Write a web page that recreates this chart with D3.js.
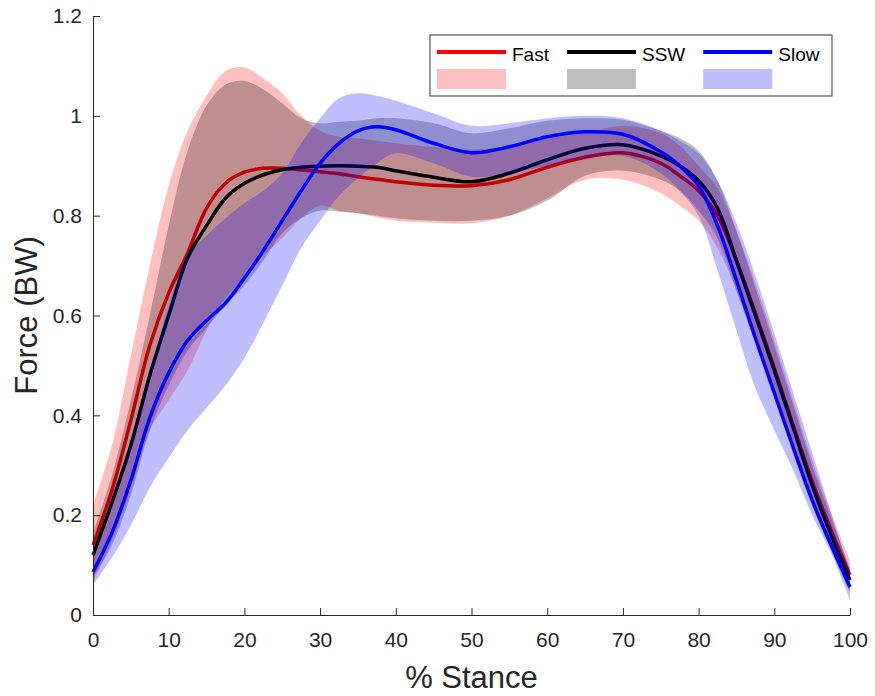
<!DOCTYPE html>
<html>
<head>
<meta charset="utf-8">
<script src="https://cdn.jsdelivr.net/npm/d3@7"></script>
<style>
  body { margin: 0; background: #fff; }
  svg { display: block; font-family: "Liberation Sans", Arial, sans-serif; }
</style>
</head>
<body>
<script>
// % stance sample points (denser where the curves turn fast)
var stance = [0, 2.5, 5, 7.5, 10, 12.5, 15, 17.5, 20, 22.5, 25, 27.5, 30, 32.5, 35, 37.5, 40,
              45, 50, 55, 60, 65, 70, 75, 77.5, 80, 82.5, 85, 87.5, 90, 92.5, 95, 97.5, 100];

// Fast
var fastMean = [0.14, 0.25, 0.39, 0.54, 0.645, 0.725, 0.815, 0.865, 0.887, 0.895, 0.895, 0.892, 0.888, 0.884, 0.878, 0.873, 0.868,
                0.861, 0.86, 0.872, 0.897, 0.917, 0.926, 0.905, 0.88, 0.85, 0.8, 0.71, 0.605, 0.495, 0.38, 0.268, 0.17, 0.08];
var fastHi   = [0.22, 0.34, 0.52, 0.7, 0.86, 0.97, 1.04, 1.09, 1.097, 1.075, 1.045, 1.0, 0.97, 0.958, 0.955, 0.95, 0.945,
                0.937, 0.932, 0.94, 0.955, 0.965, 0.98, 0.965, 0.94, 0.9, 0.855, 0.77, 0.665, 0.55, 0.43, 0.31, 0.205, 0.11];
var fastLo   = [0.065, 0.15, 0.25, 0.37, 0.43, 0.49, 0.57, 0.635, 0.675, 0.72, 0.755, 0.795, 0.82, 0.81, 0.805, 0.797, 0.79,
                0.786, 0.785, 0.8, 0.835, 0.872, 0.872, 0.845, 0.82, 0.79, 0.735, 0.65, 0.545, 0.44, 0.33, 0.225, 0.135, 0.05];

// SSW
var sswMean = [0.12, 0.225, 0.34, 0.48, 0.6, 0.715, 0.78, 0.835, 0.865, 0.882, 0.892, 0.897, 0.899, 0.9, 0.899, 0.897, 0.89,
               0.877, 0.868, 0.885, 0.912, 0.935, 0.942, 0.92, 0.9, 0.87, 0.815, 0.71, 0.6, 0.49, 0.375, 0.26, 0.16, 0.07];
var sswHi   = [0.165, 0.28, 0.43, 0.6, 0.78, 0.93, 1.02, 1.063, 1.07, 1.053, 1.025, 0.995, 0.985, 0.988, 0.99, 0.995, 0.995,
               0.985, 0.965, 0.975, 0.99, 0.995, 0.992, 0.97, 0.955, 0.93, 0.87, 0.77, 0.655, 0.54, 0.42, 0.3, 0.195, 0.095];
var sswLo   = [0.075, 0.14, 0.24, 0.37, 0.46, 0.53, 0.575, 0.62, 0.66, 0.71, 0.765, 0.795, 0.81, 0.808, 0.805, 0.8, 0.795,
               0.79, 0.79, 0.8, 0.83, 0.88, 0.89, 0.872, 0.85, 0.81, 0.755, 0.65, 0.545, 0.44, 0.33, 0.22, 0.13, 0.045];

// Slow
var slowMean = [0.086, 0.165, 0.27, 0.395, 0.485, 0.55, 0.59, 0.625, 0.675, 0.73, 0.79, 0.85, 0.905, 0.945, 0.97, 0.978, 0.972,
                0.945, 0.926, 0.938, 0.958, 0.968, 0.963, 0.928, 0.9, 0.86, 0.78, 0.67, 0.555, 0.445, 0.335, 0.23, 0.14, 0.056];
var slowHi   = [0.11, 0.22, 0.34, 0.48, 0.62, 0.72, 0.76, 0.795, 0.825, 0.85, 0.885, 0.945, 0.995, 1.035, 1.045, 1.04, 1.03,
                1.005, 0.98, 0.985, 0.995, 1.0, 0.995, 0.97, 0.95, 0.925, 0.87, 0.785, 0.68, 0.565, 0.445, 0.325, 0.205, 0.085];
var slowLo   = [0.06, 0.115, 0.18, 0.255, 0.315, 0.37, 0.415, 0.46, 0.515, 0.585, 0.66, 0.735, 0.79, 0.84, 0.875, 0.905, 0.925,
                0.905, 0.878, 0.885, 0.9, 0.915, 0.92, 0.885, 0.85, 0.8, 0.69, 0.57, 0.455, 0.37, 0.29, 0.2, 0.125, 0.03];

var seriesNames = ['Fast', 'SSW', 'Slow'];
var lineColors = ['#ff0000', '#000000', '#0000ff'];
var bandColors = ['#ff0000', '#000000', '#0000ff'];

var xTicks = [0, 10, 20, 30, 40, 50, 60, 70, 80, 90, 100];
var yTicks = [0, 0.2, 0.4, 0.6, 0.8, 1, 1.2];
var yTickLabels = ['0', '0.2', '0.4', '0.6', '0.8', '1', '1.2'];

var width = 875, height = 696;
var svg = d3.select('body').append('svg')
  .attr('width', width)
  .attr('height', height);

var x = d3.scaleLinear().domain([0, 100]).range([93, 850]);
var y = d3.scaleLinear().domain([0, 1.2]).range([615, 16]);

var series = [
  { mean: fastMean, hi: fastHi, lo: fastLo },
  { mean: sswMean, hi: sswHi, lo: sswLo },
  { mean: slowMean, hi: slowHi, lo: slowLo }
];

var curve = d3.curveCatmullRom.alpha(0.5);
var band = d3.area()
  .x(function(d) { return x(d.x); })
  .y0(function(d) { return y(d.lo); })
  .y1(function(d) { return y(d.hi); })
  .curve(curve);
var line = d3.line()
  .x(function(d) { return x(d.x); })
  .y(function(d) { return y(d.y); })
  .curve(curve);

// each series: shaded band first, then its mean line
series.forEach(function(s, k) {
  var pts = stance.map(function(v, i) {
    return { x: v, y: s.mean[i], hi: s.hi[i], lo: s.lo[i] };
  });
  svg.append('path')
    .attr('d', band(pts))
    .attr('fill', bandColors[k])
    .attr('fill-opacity', 0.25);
  svg.append('path')
    .attr('d', line(pts))
    .attr('fill', 'none')
    .attr('stroke', lineColors[k])
    .attr('stroke-width', 3.5);
});

// axes, ticks pointing inward like matlab
var xAxis = d3.axisBottom(x).tickValues(xTicks).tickSizeInner(-7).tickSizeOuter(0).tickPadding(17);
var yAxis = d3.axisLeft(y).tickValues(yTicks)
  .tickFormat(function(d, i) { return yTickLabels[i]; })
  .tickSizeInner(-7).tickSizeOuter(0).tickPadding(11);

var gx = svg.append('g').attr('transform', 'translate(0,' + y(0) + ')').call(xAxis);
var gy = svg.append('g').attr('transform', 'translate(' + x(0) + ',0)').call(yAxis);
[gx, gy].forEach(function(g) {
  g.selectAll('path, line').attr('stroke', '#262626');
  g.selectAll('text').attr('fill', '#262626').style('font-size', '21px');
  g.select('.domain').attr('stroke-width', 1);
});

svg.append('text')
  .attr('x', (x(0) + x(100)) / 2)
  .attr('y', 688)
  .attr('text-anchor', 'middle')
  .attr('fill', '#262626')
  .style('font-size', '31px')
  .text('% Stance');

svg.append('text')
  .attr('transform', 'translate(37,' + (y(0) + y(1.2)) / 2 + ') rotate(-90)')
  .attr('text-anchor', 'middle')
  .attr('fill', '#262626')
  .style('font-size', '31px')
  .text('Force (BW)');

// legend
var legend = svg.append('g');
legend.append('rect')
  .attr('x', 430).attr('y', 35)
  .attr('width', 402).attr('height', 61)
  .attr('fill', '#fff')
  .attr('stroke', '#555')
  .attr('stroke-width', 1.2);

var lx = 437;
seriesNames.forEach(function(name, k) {
  legend.append('line')
    .attr('x1', lx).attr('x2', lx + 69)
    .attr('y1', 52).attr('y2', 52)
    .attr('stroke', lineColors[k])
    .attr('stroke-width', 4);
  legend.append('rect')
    .attr('x', lx).attr('y', 69)
    .attr('width', 69).attr('height', 20)
    .attr('fill', bandColors[k])
    .attr('fill-opacity', 0.25);
  var t = legend.append('text')
    .attr('x', lx + 75).attr('y', 61)
    .attr('fill', '#000')
    .style('font-size', '19px')
    .text(name);
  lx = lx + 75 + t.node().getComputedTextLength() + 18;
});
</script>
</body>
</html>
